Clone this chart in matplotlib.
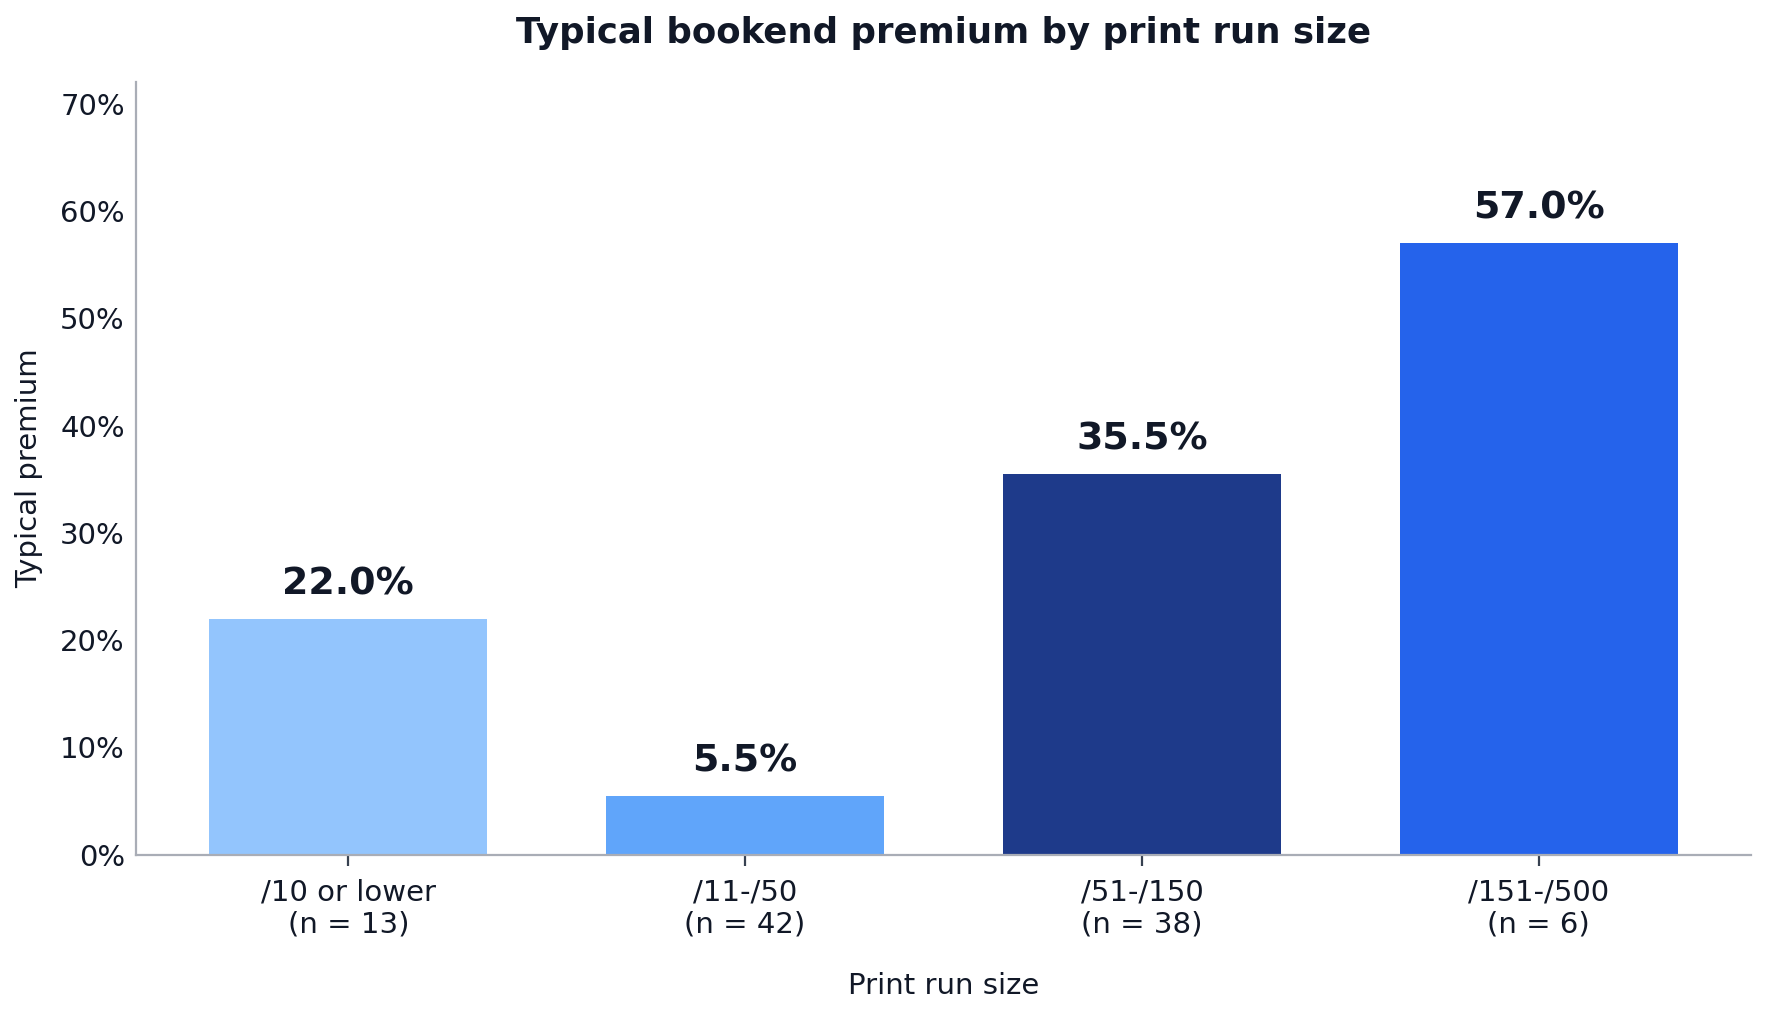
import matplotlib
matplotlib.use("Agg")
import matplotlib.pyplot as plt
import matplotlib.ticker as mtick

# ── Data ──────────────────────────────────────────────────────────────────────
categories = ["/10 or lower", "/11-/50", "/51-/150", "/151-/500"]
counts     = [13, 42, 38, 6]
premium    = [22.0, 5.5, 35.5, 57.0]
colors     = ["#93C5FD", "#60A5FA", "#1E3A8A", "#2563EB"]

TEXT = "#111827"
SPINE = "#A9ADB6"

# ── Figure ────────────────────────────────────────────────────────────────────
fig, ax = plt.subplots(figsize=(8.83, 5.07), dpi=200)
fig.subplots_adjust(left=0.077, right=0.9915, bottom=0.157, top=0.919)

x = range(len(categories))
bars = ax.bar(x, premium, width=0.7, color=colors, zorder=2)

for b, v in zip(bars, premium):
    ax.annotate(f"{v:.1f}%", (b.get_x() + b.get_width() / 2, v),
                xytext=(0, 6), textcoords="offset points",
                ha="center", va="bottom", fontsize=13.7, fontweight="bold",
                color=TEXT)

ax.set_xticks(list(x))
ax.set_xticklabels([f"{c}\n(n = {n})" for c, n in zip(categories, counts)],
                   fontsize=10.5, color=TEXT)
ax.set_ylim(0, 72)
ax.set_yticks(range(0, 71, 10))
ax.yaxis.set_major_formatter(mtick.PercentFormatter(decimals=0))
ax.tick_params(axis="y", length=0, labelsize=10.5, labelcolor=TEXT, pad=4)
ax.tick_params(axis="x", length=4, color="#374151", pad=4.5)

for s in ("top", "right"):
    ax.spines[s].set_visible(False)
for s in ("left", "bottom"):
    ax.spines[s].set_color(SPINE)
    ax.spines[s].set_linewidth(0.8)

ax.set_xlabel("Print run size", fontsize=10.5, color=TEXT, labelpad=12)
ax.set_ylabel("Typical premium", fontsize=10.5, color=TEXT, labelpad=6)
ax.set_title("Typical bookend premium by print run size", fontsize=12.8,
             fontweight="bold", color=TEXT, pad=14)

fig.savefig("out.png", dpi=200)
plt.close(fig)
